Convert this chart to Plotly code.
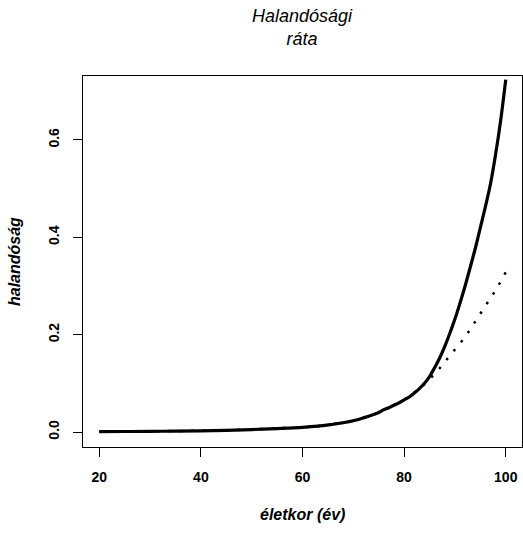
import plotly.graph_objects as go

# ages and rates
ages = [20, 25, 30, 35, 40, 45, 50, 55, 60, 63, 66, 68, 70, 72, 74, 75, 76, 77, 78, 79,
        80, 81, 82, 83, 84, 85, 86, 87, 88, 89, 90, 91, 92, 93, 94, 95, 96, 97, 98, 99, 100]
fitted = [0.0008, 0.0010, 0.0013, 0.0018, 0.0025, 0.0035, 0.0050, 0.0070, 0.0095, 0.012,
          0.016, 0.019, 0.023, 0.029, 0.036, 0.040, 0.046, 0.050, 0.055, 0.060,
          0.066, 0.072, 0.080, 0.089, 0.100, 0.114, 0.132, 0.152, 0.176, 0.203,
          0.232, 0.265, 0.300, 0.338, 0.377, 0.420, 0.463, 0.510, 0.570, 0.640, 0.724]
observed = [0.0008, 0.0010, 0.0013, 0.0018, 0.0025, 0.0035, 0.0050, 0.0070, 0.0095, 0.012,
            0.016, 0.019, 0.023, 0.029, 0.036, 0.040, 0.045, 0.050, 0.055, 0.060,
            0.066, 0.073, 0.081, 0.089, 0.098, 0.108, 0.119, 0.131, 0.144, 0.156,
            0.169, 0.182, 0.195, 0.211, 0.227, 0.243, 0.258, 0.273, 0.291, 0.309, 0.328]

x_ticks = [20, 40, 60, 80, 100]
y_ticks = [0.0, 0.2, 0.4, 0.6]

fig = go.Figure()
fig.add_trace(go.Scatter(x=ages, y=observed, mode="lines",
                         line=dict(color="black", width=2.5, dash="2.5px,9px"),
                         showlegend=False))
fig.add_trace(go.Scatter(x=ages, y=fitted, mode="lines", line_shape="spline",
                         line=dict(color="black", width=3.2),
                         showlegend=False))

tickfont = dict(family="Liberation Sans, Arial, sans-serif", size=14, color="black", weight="bold")
axis_common = dict(showline=True, mirror=True, linecolor="black", linewidth=1,
                   ticks="outside", ticklen=9, tickwidth=1, tickcolor="black",
                   showgrid=False, zeroline=False, tickfont=tickfont, automargin=False)

fig.update_xaxes(range=[16.8, 103.2], tickvals=x_ticks, ticklabelstandoff=8, **axis_common)
fig.update_yaxes(range=[-0.0308, 0.7314], tickvals=y_ticks, tickformat=".1f",
                 tickangle=-90, ticklabelstandoff=8, **axis_common)

fig.update_layout(
    width=523, height=533,
    margin=dict(l=83, r=1, t=76, b=86),
    plot_bgcolor="white", paper_bgcolor="white",
    annotations=[
        dict(text="<i>Halandósági<br>ráta</i>", xref="paper", yref="paper",
             x=0.5, y=1.132, xanchor="center", yanchor="middle", showarrow=False,
             font=dict(family="Liberation Sans, Arial, sans-serif", size=18, color="black")),
        dict(text="<b><i>életkor (év)</i></b>", xref="paper", yref="paper",
             x=0.5, y=-0.183, xanchor="center", yanchor="middle", showarrow=False,
             font=dict(family="Liberation Sans, Arial, sans-serif", size=16, color="black")),
        dict(text="<b><i>halandóság</i></b>", xref="paper", yref="paper",
             x=-0.156, y=0.5, xanchor="center", yanchor="middle", showarrow=False,
             textangle=-90,
             font=dict(family="Liberation Sans, Arial, sans-serif", size=16, color="black")),
    ],
)

fig.write_html("out.html", config={"displayModeBar": False},
               post_script="document.body.style.margin='0';document.body.style.overflow='hidden';")
